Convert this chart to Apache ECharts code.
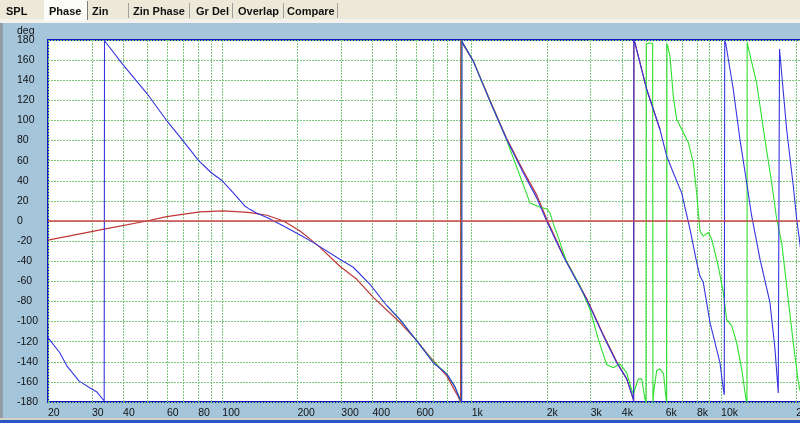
<!DOCTYPE html>
<html>
<head>
<meta charset="utf-8">
<script src="https://cdn.jsdelivr.net/npm/echarts@6/dist/echarts.min.js"></script>
<style>
  html, body { margin: 0; padding: 0; background: #a5c5db; }
  #chart { width: 800px; height: 423px; }
</style>
</head>
<body>
<div id="chart"></div>
<script>
// tick labels and grid positions (Hz)
var xLabels = [20, 30, 40, 60, 80, 100, 200, 300, 400, 600, 1000, 2000, 3000, 4000, 6000, 8000, 10000, 20000];
var xGrid = [20, 30, 40, 50, 60, 70, 80, 90, 100, 200, 300, 400, 500, 600, 700, 800, 900,
  1000, 2000, 3000, 4000, 5000, 6000, 7000, 8000, 9000, 10000, 20000];
var tabs = ["SPL", "Phase", "Zin", "Zin Phase", "Gr Del", "Overlap", "Compare"];

// blue curve
var blueFreq = [20, 22.3, 23.8, 26.6, 29.5, 31.4, 33.6, 33.7, 34, 40.1, 49.8, 60.2, 70, 80.4, 90.3, 100,
  110.7, 123, 129, 137, 151, 176, 205, 232, 296, 335, 391, 456, 516, 610, 701, 794, 857, 897, 912, 914,
  917, 1015, 1184, 1381, 1610, 1822, 1998, 2330, 2890, 3370, 3814, 4184, 4446, 4460, 4470, 4516, 5030,
  5688, 6052, 6432, 6948, 7278, 7502, 7980, 8230, 8484, 9026, 9452, 9898, 10204, 10298, 10340, 10432,
  11188, 11904, 12666, 13264, 14320, 15700, 16444, 16952, 17150, 17492, 18316, 19472, 20094, 20700, 21500];
var bluePhase = [-116, -131, -144, -159, -166, -170, -179, 180, 178, 155, 127, 99, 79, 60, 48, 40,
  28, 15, 11.6, 8, 3.4, -5, -14, -21.5, -38, -46, -63, -84, -98, -121, -141, -152, -165, -177, -180, 180,
  178, 159, 119, 81, 48, 23, 0, -35, -78, -114, -141, -157, -177, -180, 180, 177, 131,
  91, 64.5, 48, 28, 6, -8, -41, -55, -61, -101, -121, -141, -167, -173, 179, 177,
  131, 81, 38, 5, -38, -81, -127, -171, 171, 147, 91, 35, 2, -22, -60];

// red curve
var redFreq = [20, 33.6, 49.8, 59.8, 81.4, 100, 114, 129, 151, 176, 205, 225, 246, 296, 346, 403, 516,
  602, 701, 794, 884, 903, 905, 920, 1015, 1184, 1381, 1610, 1822, 1998, 2330, 2890, 3370, 3814, 4184,
  4446, 4460, 4470, 4516, 5030, 5688];
var redPhase = [-19, -8, 0, 4.4, 9, 10, 9.3, 8.3, 5.7, 0, -10, -18, -26, -45, -58, -76, -101,
  -119, -139, -154, -175, -180, 180, 176, 159, 120, 82, 50, 26, 2, -34, -77, -113, -140, -157,
  -177, -180, 180, 177, 131, 91];

// green curve
var greenFreq = [456, 516, 610, 701, 794, 857, 897, 910, 912, 917, 1015, 1184, 1381, 1402, 1561, 1712,
  1878, 1998, 2060, 2158, 2192, 2404, 2718, 2980, 3218, 3478, 3696, 3932, 4184, 4380, 4446, 4656, 4804,
  4952, 4998, 5010, 5078, 5152, 5220, 5316, 5330, 5380, 5516, 5690, 5880, 6010, 6050, 6065, 6108, 6238,
  6432, 6638, 7054, 7388, 7736, 7980, 8230, 8484, 8886, 9168, 9746, 10204, 10528, 11024, 11544, 12090,
  12584, 12700, 12720, 12780, 13888, 14994, 15952, 16704, 17492, 18316, 19472, 20392, 20700, 21500];
var greenPhase = [-84, -98, -121, -140, -152, -165, -177, -180, 180, 178, 159, 119, 81, 76, 45, 18,
  14, 12, 8, -8, -11.5, -41, -64.5, -88, -117.5, -143, -146, -142, -151, -168, -172, -157, -157,
  -177, -180, 176, 175, 177, 175.5, 176.5, -180, -168, -149, -147, -152, -176, -180, 176, 174, 164,
  124, 101, 88, 78, 58, 28, -10, -15, -11.5, -18, -45, -71, -98, -104, -121, -147,
  -177, -180, 178, 175, 137, 81, 38, 2, -21.5, -64.5, -121, -160, -168, -180];

function pairs(fs, ps) {
  return fs.map(function (f, i) {
    return [f, ps[i]];
  });
}

function tabGraphics() {
  var els = [
    { type: "rect", shape: { x: 0, y: 0, width: 800, height: 23 }, style: { fill: "#ece9d8" } },
    { type: "rect", shape: { x: 0, y: 19, width: 800, height: 4 }, style: { fill: "#f3f2ec" } },
    { type: "rect", shape: { x: 44, y: 0, width: 44, height: 21 }, style: { fill: "#fbfbf8" } },
    { type: "rect", shape: { x: 87, y: 1, width: 1, height: 19 }, style: { fill: "#7a7a7a" } },
    { type: "rect", shape: { x: 0, y: 23, width: 3, height: 396 }, style: { fill: "#949ea8" } },
    { type: "rect", shape: { x: 0, y: 418, width: 800, height: 2 }, style: { fill: "#d6d2c6" } },
    { type: "rect", shape: { x: 0, y: 420, width: 800, height: 3 }, style: { fill: "#2a56c6" } },
  ];
  var tabX = [6, 49, 92, 133, 196, 238, 287];
  var sepX = [128, 189, 232, 283, 337];
  tabs.forEach(function (t, i) {
    els.push({
      type: "text",
      x: tabX[i],
      y: 12,
      style: {
        text: t,
        fill: "#111",
        font: "bold 11px 'Liberation Sans'",
        verticalAlign: "middle",
      },
    });
  });
  sepX.forEach(function (x) {
    els.push({ type: "rect", shape: { x: x, y: 3, width: 1, height: 15 }, style: { fill: "#a0a0a0" } });
  });
  els.push({
    type: "text",
    x: 17,
    y: 31,
    style: { text: "deg", fill: "#111", font: "10.5px 'Liberation Sans'", verticalAlign: "middle" },
  });
  return els;
}

var gridStyle = { color: "#7cc67c", width: 1, type: [2, 1] };

var myChart = echarts.init(document.getElementById("chart"));
var option = {
  backgroundColor: "#a5c5db",
  animation: false,
  graphic: tabGraphics(),
  grid: {
    left: 48,
    top: 40,
    width: 756,
    height: 362,
    outerBoundsMode: "none",
    containLabel: false,
    show: true,
    backgroundColor: "#ffffff",
    borderColor: "#1414c8",
    borderWidth: 2,
  },
  xAxis: {
    type: "log",
    logBase: 10,
    min: 20,
    max: 21500,
    axisLine: { show: false },
    axisTick: { show: false, customValues: xGrid },
    axisLabel: {
      customValues: xLabels,
      align: "left",
      margin: 6,
      color: "#111",
      fontFamily: "Liberation Sans",
      fontSize: 10.5,
      formatter: function (v) {
        return v >= 1000 ? v / 1000 + "k" : "" + v;
      },
    },
    splitLine: { show: true, lineStyle: gridStyle },
  },
  yAxis: {
    type: "value",
    min: -180,
    max: 180,
    interval: 20,
    axisLine: { show: false },
    axisTick: { show: false },
    axisLabel: {
      align: "left",
      margin: 31,
      color: "#111",
      fontFamily: "Liberation Sans",
      fontSize: 10.5,
    },
    splitLine: { show: true, lineStyle: gridStyle },
  },
  series: [
    {
      name: "red",
      type: "line",
      data: pairs(redFreq, redPhase),
      symbol: "none",
      lineStyle: { color: "#c03636", width: 1.2 },
      z: 2,
      markLine: {
        silent: true,
        symbol: "none",
        label: { show: false },
        lineStyle: { color: "#c84848", width: 1.5, type: "solid" },
        data: [{ yAxis: 0 }],
      },
    },
    {
      name: "green",
      type: "line",
      data: pairs(greenFreq, greenPhase),
      symbol: "none",
      lineStyle: { color: "#2ee02e", width: 1.1 },
      z: 3,
    },
    {
      name: "blue",
      type: "line",
      data: pairs(blueFreq, bluePhase),
      symbol: "none",
      lineStyle: { color: "#3434e0", width: 1.1 },
      z: 4,
    },
  ],
};
myChart.setOption(option);
</script>
</body>
</html>
